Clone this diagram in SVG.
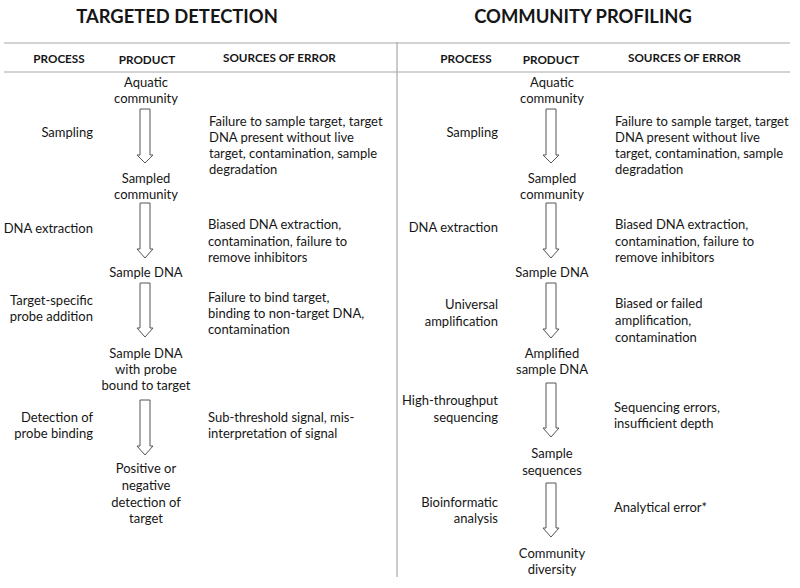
<svg xmlns="http://www.w3.org/2000/svg" width="800" height="588" viewBox="0 0 800 588">
<style>
text{font-family:Lato,"Liberation Sans",sans-serif;fill:#161616}
.title{font-size:18.4px;font-weight:bold;text-anchor:middle}
.hdr{font-size:11.7px;font-weight:bold}
.b{font-size:13px}
.m{text-anchor:middle}
.e{text-anchor:end}
.rule{stroke:#a8a8a8;stroke-width:1.2;fill:none}
.arr{fill:#fff;stroke:#555;stroke-width:1}
</style>
<rect width="800" height="588" fill="#fff"/>
<g id="frame">
<line class="rule" x1="4" y1="43" x2="790" y2="43"/>
<line class="rule" x1="4" y1="72" x2="790" y2="72"/>
<line class="rule" x1="397" y1="42" x2="397" y2="577"/>
</g>
<g id="titles">
<text class="title" x="177" y="23">TARGETED DETECTION</text>
<text class="title" x="583" y="23">COMMUNITY PROFILING</text>
</g>
<g id="headers">
<text class="hdr m" x="59" y="63">PROCESS</text>
<text class="hdr m" x="147" y="64">PRODUCT</text>
<text class="hdr" x="223" y="62">SOURCES OF ERROR</text>
<text class="hdr m" x="466" y="63">PROCESS</text>
<text class="hdr m" x="551" y="64">PRODUCT</text>
<text class="hdr" x="628" y="62">SOURCES OF ERROR</text>
</g>
<g id="connectors">
<path class="arr" d="M140,109 H150 V155 H153 L145,163 L137,155 H140 Z"/>
<path class="arr" d="M140,203 H150 V249 H153 L145,258 L137,249 H140 Z"/>
<path class="arr" d="M140,283 H150 V328 H153 L145,337 L137,328 H140 Z"/>
<path class="arr" d="M140,400 H150 V446 H153 L145,455 L137,446 H140 Z"/>
<path class="arr" d="M546,109 H556 V155 H559 L551,163 L543,155 H546 Z"/>
<path class="arr" d="M546,203 H556 V249 H559 L551,258 L543,249 H546 Z"/>
<path class="arr" d="M546,283 H556 V329 H559 L551,338 L543,329 H546 Z"/>
<path class="arr" d="M546,383 H556 V428 H559 L551,437 L543,428 H546 Z"/>
<path class="arr" d="M546,483 H556 V528 H559 L551,537 L543,528 H546 Z"/>
</g>
<g id="left-products">
<g id="l-aquatic"><text class="b m" x="146" y="87">Aquatic</text><text class="b m" x="146" y="103">community</text></g>
<g id="l-sampled"><text class="b m" x="146" y="183">Sampled</text><text class="b m" x="146" y="199">community</text></g>
<g id="l-dna"><text class="b m" x="146" y="277">Sample DNA</text></g>
<g id="l-probe"><text class="b m" x="146" y="358">Sample DNA</text><text class="b m" x="146" y="374">with probe</text><text class="b m" x="146" y="390">bound to target</text></g>
<g id="l-result"><text class="b m" x="146" y="473">Positive or</text><text class="b m" x="146" y="490">negative</text><text class="b m" x="146" y="507">detection of</text><text class="b m" x="146" y="523">target</text></g>
</g>
<g id="left-process">
<g id="l-p1"><text class="b e" x="93" y="137">Sampling</text></g>
<g id="l-p2"><text class="b e" x="93" y="233">DNA extraction</text></g>
<g id="l-p3"><text class="b e" x="93" y="305">Target-specific</text><text class="b e" x="93" y="321">probe addition</text></g>
<g id="l-p4"><text class="b e" x="93" y="422">Detection of</text><text class="b e" x="93" y="438">probe binding</text></g>
</g>
<g id="left-errors">
<g id="l-e1"><text class="b" x="209" y="126">Failure to sample target, target</text><text class="b" x="209" y="142">DNA present without live</text><text class="b" x="209" y="158">target, contamination, sample</text><text class="b" x="209" y="174">degradation</text></g>
<g id="l-e2"><text class="b" x="208" y="229">Biased DNA extraction,</text><text class="b" x="208" y="246">contamination, failure to</text><text class="b" x="208" y="262">remove inhibitors</text></g>
<g id="l-e3"><text class="b" x="208" y="302">Failure to bind target,</text><text class="b" x="208" y="318">binding to non-target DNA,</text><text class="b" x="208" y="334">contamination</text></g>
<g id="l-e4"><text class="b" x="208" y="422">Sub-threshold signal, mis-</text><text class="b" x="208" y="438">interpretation of signal</text></g>
</g>
<g id="right-products">
<g id="r-aquatic"><text class="b m" x="552" y="87">Aquatic</text><text class="b m" x="552" y="103">community</text></g>
<g id="r-sampled"><text class="b m" x="552" y="183">Sampled</text><text class="b m" x="552" y="199">community</text></g>
<g id="r-dna"><text class="b m" x="552" y="277">Sample DNA</text></g>
<g id="r-amp"><text class="b m" x="552" y="358">Amplified</text><text class="b m" x="552" y="374">sample DNA</text></g>
<g id="r-seq"><text class="b m" x="552" y="458">Sample</text><text class="b m" x="552" y="475">sequences</text></g>
<g id="r-div"><text class="b m" x="552" y="558">Community</text><text class="b m" x="552" y="574">diversity</text></g>
</g>
<g id="right-process">
<g id="r-p1"><text class="b e" x="498" y="137">Sampling</text></g>
<g id="r-p2"><text class="b e" x="498" y="232">DNA extraction</text></g>
<g id="r-p3"><text class="b e" x="498" y="309">Universal</text><text class="b e" x="498" y="326">amplification</text></g>
<g id="r-p4"><text class="b e" x="498" y="405">High-throughput</text><text class="b e" x="498" y="422">sequencing</text></g>
<g id="r-p5"><text class="b e" x="498" y="507">Bioinformatic</text><text class="b e" x="498" y="523">analysis</text></g>
</g>
<g id="right-errors">
<g id="r-e1"><text class="b" x="615" y="126">Failure to sample target, target</text><text class="b" x="615" y="142">DNA present without live</text><text class="b" x="615" y="158">target, contamination, sample</text><text class="b" x="615" y="174">degradation</text></g>
<g id="r-e2"><text class="b" x="615" y="229">Biased DNA extraction,</text><text class="b" x="615" y="246">contamination, failure to</text><text class="b" x="615" y="262">remove inhibitors</text></g>
<g id="r-e3"><text class="b" x="615" y="308">Biased or failed</text><text class="b" x="615" y="325">amplification,</text><text class="b" x="615" y="342">contamination</text></g>
<g id="r-e4"><text class="b" x="614" y="412">Sequencing errors,</text><text class="b" x="614" y="428">insufficient depth</text></g>
<g id="r-e5"><text class="b" x="614" y="512">Analytical error*</text></g>
</g>
</svg>
